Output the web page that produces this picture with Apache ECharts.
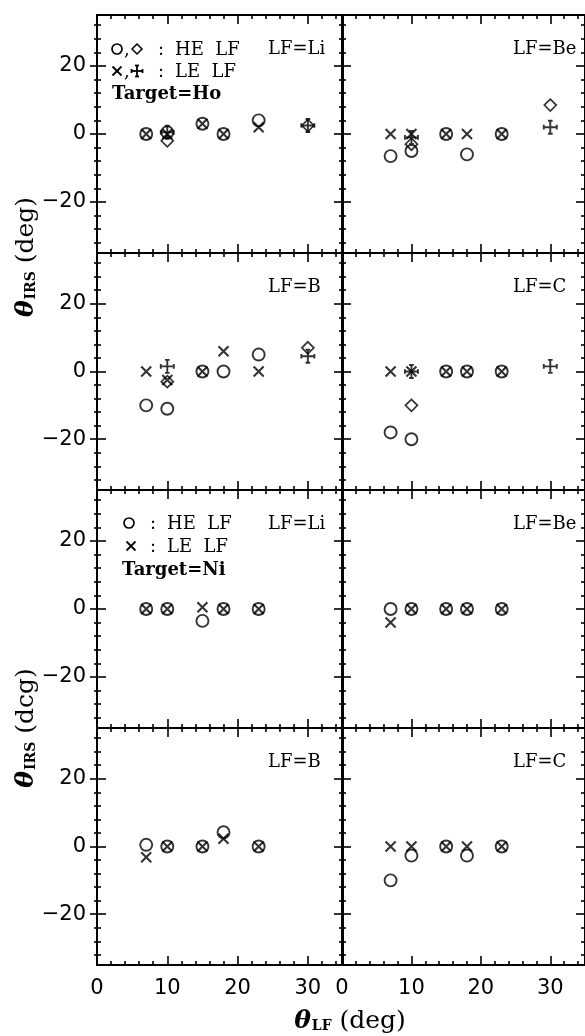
<!DOCTYPE html>
<html><head><meta charset="utf-8">
<script src="https://cdn.jsdelivr.net/npm/echarts@6/dist/echarts.min.js"></script>
<style>html,body{margin:0;padding:0;background:#fff}#c{width:585px;height:1036px}</style>
</head><body><div id="c"></div>
<script>
// ---------------- data ----------------
const thetaLF = [7, 10, 15, 18, 23];        // x positions of circles / crosses
const thetaLFExtra = [10, 30];              // x positions of diamonds / plus marks
const panelLabels = ['LF=Li', 'LF=Be', 'LF=B', 'LF=C', 'LF=Li', 'LF=Be', 'LF=B', 'LF=C'];
const xTickLabels = [0, 10, 20, 30];
const yTickLabels = [-20, 0, 20];
const xMinorTicks = [2, 4, 6, 8, 12, 14, 16, 18, 22, 24, 26, 28, 32, 34];
const yMinorTicks = [-32, -28, -24, -16, -12, -8, -4, 4, 8, 12, 16, 24, 28, 32];

// Target = Ho  (HE LF: circle, diamond ; LE LF: cross, plus)
const hoLiCircle  = [0, 0.5, 3, 0, 4];
const hoLiCross   = [0, 0, 3, 0, 2];
const hoLiDiamond = [-2, 2.5];
const hoLiPlus    = [0.5, 2.5];

const hoBeCircle  = [-6.5, -5, 0, -6, 0];
const hoBeCross   = [0, 0, 0, 0, 0];
const hoBeDiamond = [-3, 8.5];
const hoBePlus    = [-1, 2];

const hoBCircle   = [-10, -11, 0, 0, 5];
const hoBCross    = [0, -2.5, 0, 6, 0];
const hoBDiamond  = [-3, 7];
const hoBPlus     = [1.5, 4.5];

const hoCCircle   = [-18, -20, 0, 0, 0];
const hoCCross    = [0, 0, 0, 0, 0];
const hoCDiamond  = [-10, null];
const hoCPlus     = [0, 1.5];

// Target = Ni
const niLiCircle  = [0, 0, -3.5, 0, 0];
const niLiCross   = [0, 0, 0.5, 0, 0];
const niBeCircle  = [0, 0, 0, 0, 0];
const niBeCross   = [-4, 0, 0, 0, 0];
const niBCircle   = [0.5, 0, 0, 4.2, 0];
const niBCross    = [-3.2, 0, 0, 2.3, 0];
const niCCircle   = [-10, -2.7, 0, -2.7, 0];
const niCCross    = [0, 0, 0, 0, 0];

const panels = [
  {circle: hoLiCircle, cross: hoLiCross, diamond: hoLiDiamond, plus: hoLiPlus},
  {circle: hoBeCircle, cross: hoBeCross, diamond: hoBeDiamond, plus: hoBePlus},
  {circle: hoBCircle,  cross: hoBCross,  diamond: hoBDiamond,  plus: hoBPlus},
  {circle: hoCCircle,  cross: hoCCross,  diamond: hoCDiamond,  plus: hoCPlus},
  {circle: niLiCircle, cross: niLiCross},
  {circle: niBeCircle, cross: niBeCross},
  {circle: niBCircle,  cross: niBCross},
  {circle: niCCircle,  cross: niCCross}
];

// ---------------- layout ----------------
const LEFTS = [97, 342], WIDTHS = [246, 245];
const TOPS = [15, 253, 490, 728], HEIGHTS = [238, 237, 238, 237];
const SERIF = '"DejaVu Serif", "Liberation Serif", serif';
const SANS = '"DejaVu Sans", sans-serif';

const grids = [], xAxes = [], yAxes = [], series = [], graphics = [];
const fmt = v => (v < 0 ? '\u2212' + Math.abs(v) : String(v));

function mkAxis(dim, g, pos, ticks, len, inside, labelVals) {
  const a = {
    type: 'value', gridIndex: g, position: pos,
    min: dim === 'x' ? 0 : -35, max: 35,
    axisLine: {show: true, onZero: false, lineStyle: {color: '#000', width: 1.8}},
    axisTick: {show: true, inside: inside, length: len, customValues: ticks,
               lineStyle: {color: '#000', width: 1.6}},
    axisLabel: {show: false},
    splitLine: {show: false}, minorTick: {show: false}, splitArea: {show: false}
  };
  if (labelVals) {
    a.axisLabel = {show: true, customValues: labelVals, formatter: fmt,
      color: '#000', fontFamily: SANS, fontSize: 21, margin: dim === 'x' ? 13 : 11};
  }
  return a;
}

const CROSS = 'path://M0,0L10,10M10,0L0,10';
const PLUS = 'path://M5,0L5,10M0,5L10,5M3.2,0L6.8,0M3.2,10L6.8,10M0,3.2L0,6.8M10,3.2L10,6.8';

for (let r = 0; r < 4; r++) {
  for (let c = 0; c < 2; c++) {
    const g = r * 2 + c;
    grids.push({left: LEFTS[c], top: TOPS[r], width: WIDTHS[c], height: HEIGHTS[r], containLabel: false});
    const mainX = xAxes.length;
    xAxes.push(mkAxis('x', g, 'bottom', xTickLabels, 9, true, r === 3 ? xTickLabels : null));
    xAxes.push(mkAxis('x', g, 'bottom', xMinorTicks, 4, true, null));
    xAxes.push(mkAxis('x', g, 'top', xTickLabels, 9, true, null));
    xAxes.push(mkAxis('x', g, 'top', xMinorTicks, 4, true, null));
    const mainY = yAxes.length;
    yAxes.push(mkAxis('y', g, 'left', yTickLabels, 9, true, c === 0 ? yTickLabels : null));
    yAxes.push(mkAxis('y', g, 'left', yMinorTicks, 4, true, null));
    yAxes.push(mkAxis('y', g, 'right', yTickLabels, 9, true, null));
    yAxes.push(mkAxis('y', g, 'right', yMinorTicks, 4, true, null));
    if (c === 0) {
      yAxes.push(mkAxis('y', g, 'left', yTickLabels, 7, false, null));
      yAxes.push(mkAxis('y', g, 'left', yMinorTicks, 3, false, null));
    }
    const p = panels[g];
    const base = {type: 'scatter', xAxisIndex: mainX, yAxisIndex: mainY, silent: true,
                  emphasis: {disabled: true}};
    const pairs = (xs, ys) => xs.map((x, i) => [x, ys[i]]).filter(d => d[1] !== null && d[1] !== undefined);
    series.push(Object.assign({}, base, {name: 'HE LF', symbol: 'circle', symbolSize: 12,
      itemStyle: {color: 'rgba(0,0,0,0)', borderColor: '#000', borderWidth: 1.9},
      data: pairs(thetaLF, p.circle)}));
    series.push(Object.assign({}, base, {name: 'LE LF', symbol: CROSS, symbolSize: 10,
      itemStyle: {color: 'rgba(0,0,0,0)', borderColor: '#000', borderWidth: 2.1},
      data: pairs(thetaLF, p.cross)}));
    if (p.diamond) {
      series.push(Object.assign({}, base, {name: 'HE LF (2)', symbol: 'diamond', symbolSize: [12, 12],
        itemStyle: {color: 'rgba(0,0,0,0)', borderColor: '#000', borderWidth: 1.7},
        data: pairs(thetaLFExtra, p.diamond)}));
      series.push(Object.assign({}, base, {name: 'LE LF (2)', symbol: PLUS, symbolSize: [13, 13],
        itemStyle: {color: 'rgba(0,0,0,0)', borderColor: '#000', borderWidth: 1.9},
        data: pairs(thetaLFExtra, p.plus)}));
    }
    graphics.push({type: 'text', x: LEFTS[c] + 171, y: TOPS[r] + 34, silent: true,
      style: {text: panelLabels[g], fill: '#000', font: '18px ' + SERIF, align: 'left', verticalAlign: 'middle'}});
  }
}

// ---- legend texts ----
function txt(x, y, s, bold, align) {
  graphics.push({type: 'text', x: x, y: y, silent: true,
    style: {text: s, fill: '#000', font: (bold ? 'bold ' : '') + '18px ' + SERIF,
            align: align || 'left', verticalAlign: 'middle'}});
}
function gCircle(x, y) {
  graphics.push({type: 'circle', silent: true, shape: {cx: x, cy: y, r: 5},
    style: {fill: 'none', stroke: '#000', lineWidth: 1.7}});
}
function gDiamond(x, y) {
  graphics.push({type: 'polygon', silent: true, shape: {points: [[x, y - 5], [x + 5, y], [x, y + 5], [x - 5, y]]},
    style: {fill: 'none', stroke: '#000', lineWidth: 1.5}});
}
function gLine(x1, y1, x2, y2) {
  graphics.push({type: 'line', silent: true, shape: {x1, y1, x2, y2}, style: {stroke: '#000', lineWidth: 1.8}});
}
function gCross(x, y) { gLine(x - 4.5, y - 4.5, x + 4.5, y + 4.5); gLine(x + 4.5, y - 4.5, x - 4.5, y + 4.5); }
function gPlus(x, y) {
  gLine(x - 5.5, y, x + 5.5, y); gLine(x, y - 5.5, x, y + 5.5);
  gLine(x - 2, y - 5.5, x + 2, y - 5.5); gLine(x - 2, y + 5.5, x + 2, y + 5.5);
  gLine(x - 5.5, y - 2, x - 5.5, y + 2); gLine(x + 5.5, y - 2, x + 5.5, y + 2);
}
// Target = Ho legend
gCircle(117, 49); txt(124, 50, ','); gDiamond(137, 49); txt(158, 50, ':'); txt(175, 50, 'HE  LF');
gCross(117, 71); txt(124, 72, ','); gPlus(137, 71); txt(158, 72, ':'); txt(175, 72, 'LE  LF');
txt(112, 94, 'Target=Ho', true);
// Target = Ni legend
gCircle(129, 523); txt(150, 524, ':'); txt(167, 524, 'HE  LF');
gCross(131, 546); txt(150, 547, ':'); txt(167, 547, 'LE  LF');
txt(122, 570, 'Target=Ni', true);

// ---- axis titles ----
const titleRich = {
  th: {fontSize: 25, fontStyle: 'italic', fontWeight: 'bold', fontFamily: SERIF, fill: '#000'},
  sub: {fontSize: 14, fontWeight: 'bold', fontFamily: SERIF, fill: '#000', verticalAlign: 'bottom', padding: [0, 0, 0, 1]},
  m: {fontSize: 25, fontFamily: SERIF, fill: '#000'}
};
graphics.push({type: 'text', x: 26, y: 257, rotation: Math.PI / 2, silent: true,
  style: {text: '{th|θ}{sub|IRS}{m| (deg)}', rich: titleRich, align: 'center', verticalAlign: 'middle'}});
graphics.push({type: 'text', x: 26, y: 728, rotation: Math.PI / 2, silent: true,
  style: {text: '{th|θ}{sub|IRS}{m| (dcg)}', rich: titleRich, align: 'center', verticalAlign: 'middle'}});
graphics.push({type: 'text', x: 350, y: 1021, silent: true,
  style: {text: '{th|θ}{sub|LF}{m| (deg)}', rich: titleRich, align: 'center', verticalAlign: 'middle'}});

const chart = echarts.init(document.getElementById('c'), null, {renderer: 'canvas'});
chart.setOption({
  backgroundColor: '#fff', animation: false,
  grid: grids, xAxis: xAxes, yAxis: yAxes, series: series, graphic: graphics
});
</script></body></html>
